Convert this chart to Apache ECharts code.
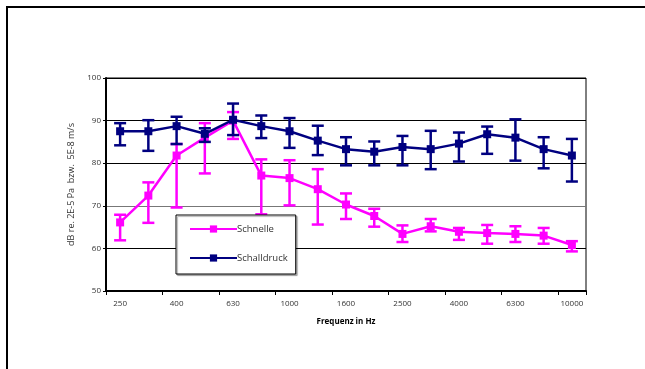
<!DOCTYPE html>
<html><head><meta charset="utf-8">
<script src="https://cdn.jsdelivr.net/npm/echarts@6/dist/echarts.min.js"></script>
<style>html,body{margin:0;padding:0;background:#fff}#c{width:645px;height:369px}</style>
</head><body><div id="c"></div>
<script>
const categories = ['250','315','400','500','630','800','1000','1250','1600','2000','2500','3150','4000','5000','6300','8000','10000'];
const schnelle     = [66.1, 72.4, 81.8, 86.0, 90.0, 77.1, 76.5, 73.9, 70.3, 67.6, 63.4, 65.2, 63.9, 63.6, 63.4, 63.0, 60.8];
const schnelleHigh = [67.9, 75.5, 84.5, 89.4, 92.0, 80.9, 80.7, 78.6, 72.9, 69.3, 65.4, 66.9, 64.8, 65.5, 65.2, 64.8, 61.7];
const schnelleLow  = [61.9, 66.0, 69.6, 77.6, 85.7, 68.0, 70.1, 65.6, 66.9, 65.1, 61.5, 64.0, 62.0, 61.1, 61.5, 61.1, 59.3];
const schalldruck     = [87.5, 87.5, 88.7, 86.9, 90.2, 88.7, 87.5, 85.3, 83.3, 82.7, 83.8, 83.3, 84.6, 86.8, 86.0, 83.3, 81.8];
const schalldruckHigh = [89.4, 90.1, 90.9, 88.2, 94.0, 91.2, 90.6, 88.8, 86.1, 85.1, 86.4, 87.6, 87.2, 88.6, 90.3, 86.1, 85.7];
const schalldruckLow  = [84.2, 82.9, 84.5, 85.0, 86.6, 85.9, 83.6, 81.9, 79.5, 79.5, 79.5, 78.6, 80.4, 82.2, 80.6, 78.8, 75.7];
const yTicks = [50, 60, 70, 80, 90, 100];

const MAG = '#FF00FF', NAVY = '#000080';
function errData(lo, hi){ return lo.map((v,i)=>[i, v, hi[i]]); }
function errRender(color){
  return function(params, api){
    const x = api.value(0);
    const a = api.coord([x, api.value(1)]);
    const b = api.coord([x, api.value(2)]);
    const w = 6;
    const st = {stroke: color, lineWidth: 2.5};
    return {type:'group', children:[
      {type:'line', shape:{x1:a[0], y1:a[1], x2:b[0], y2:b[1]}, style:st},
      {type:'line', shape:{x1:a[0]-w, y1:a[1], x2:a[0]+w, y2:a[1]}, style:st},
      {type:'line', shape:{x1:b[0]-w, y1:b[1], x2:b[0]+w, y2:b[1]}, style:st}
    ]};
  };
}
const chart = echarts.init(document.getElementById('c'), null, {renderer:'canvas'});
const FONT = 'Open Sans';
chart.setOption({
  animation:false,
  backgroundColor:'#fff',
  graphic:[{type:'rect', shape:{x:7, y:7, width:700, height:420}, style:{fill:'none', stroke:'#000', lineWidth:2}, z:100}],
  grid:{left:106, right:59, top:78, bottom:78, show:true, borderColor:'#000', borderWidth:1},
  legend:{
    orient:'vertical', left:176, top:215, data:['Schnelle','Schalldruck'],
    backgroundColor:'#fff', borderColor:'#000', borderWidth:1,
    padding:[9,8,11,13], itemGap:19, itemWidth:47, itemHeight:9,
    shadowColor:'rgba(0,0,0,0.3)', shadowOffsetX:1.5, shadowOffsetY:1.5, shadowBlur:1,
    textStyle:{fontFamily:FONT, fontSize:9.5, color:'#333', padding:[0,0,0,-5]}
  },
  xAxis:{
    type:'category', data:categories, boundaryGap:true,
    axisLine:{lineStyle:{color:'#000', width:2}},
    axisTick:{show:true, length:4, lineStyle:{color:'#000'}},
    axisLabel:{interval:1, fontFamily:FONT, fontSize:8, color:'#333', margin:9},
    name:'Frequenz in Hz', nameLocation:'middle', nameGap:27,
    nameTextStyle:{fontFamily:FONT, fontSize:8, fontWeight:'bold', color:'#000'}
  },
  yAxis:{
    type:'value', min:yTicks[0], max:yTicks[yTicks.length-1], interval:10,
    axisLine:{show:true, lineStyle:{color:'#000', width:2}},
    axisTick:{show:true, length:3, lineStyle:{color:'#000'}},
    axisLabel:{fontFamily:FONT, fontSize:8, color:'#333', margin:5},
    splitLine:{show:true, lineStyle:{color:['#000','#000','#777','#000','#000','#000'], width:1}},
    name:'dB re. 2E-5 Pa  bzw.  5E-8 m/s', nameLocation:'middle', nameGap:26,
    nameTextStyle:{fontFamily:FONT, fontSize:9, color:'#333'}
  },
  series:[
    {type:'custom', name:'errS', data:errData(schnelleLow, schnelleHigh), renderItem:errRender(MAG), encode:{x:0, y:[1,2]}, z:2},
    {type:'line', name:'Schnelle', data:schnelle, color:MAG, symbol:'rect', symbolSize:8, lineStyle:{width:2.5, color:MAG}, itemStyle:{color:MAG}, z:3},
    {type:'custom', name:'errD', data:errData(schalldruckLow, schalldruckHigh), renderItem:errRender(NAVY), encode:{x:0, y:[1,2]}, z:4},
    {type:'line', name:'Schalldruck', data:schalldruck, color:NAVY, symbol:'rect', symbolSize:8, lineStyle:{width:2.5, color:NAVY}, itemStyle:{color:NAVY}, z:5}
  ]
});
</script></body></html>
